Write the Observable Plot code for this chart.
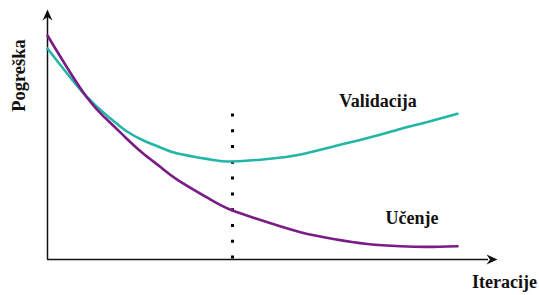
<!DOCTYPE html>
<html>
<head>
<meta charset="utf-8">
<script src="https://cdn.jsdelivr.net/npm/d3@7"></script>
<script src="https://cdn.jsdelivr.net/npm/@observablehq/plot@0.6"></script>
<style>
  html, body { margin: 0; padding: 0; background: #fff; }
  #chart svg { display: block; overflow: visible; }
</style>
</head>
<body>
<div id="chart"></div>
<script>
// Iterations (shared x values for both series)
const iterations = [0, 38, 63, 78, 96, 113, 130, 163, 185, 220, 253, 286, 320, 353, 380, 410];
// Training error (Učenje)
const trainingError = [224, 164, 136.5, 122, 105.7, 92.5, 79.7, 60, 49, 37.2, 27.3, 20.5, 15.5, 13.2, 12.6, 13.3];
// Validation error (Validacija)
const validationError = [211, 164, 141, 129, 119, 112, 106, 100, 98, 100.5, 105, 113, 121.5, 130.5, 137.5, 145.7];

// Early-stopping iteration (dotted line) and its top
const stopIteration = 185;
const stopLineTop = 145.5;

// Axis extents
const xMax = 450;
const yMax = 250;

// Labels
const seriesNames = ["Validacija", "Učenje"];
const labelX = [330.5, 364.5];
const labelY = [158, 41];
const xAxisLabel = "Iteracije";
const yAxisLabel = "Pogreška";

const colors = { "Učenje": "#7b1c86", "Validacija": "#22b6a6" };

const trainRows = iterations.map((x, i) => ({ x, y: trainingError[i], series: "Učenje" }));
const valRows = iterations.map((x, i) => ({ x, y: validationError[i], series: "Validacija" }));
const labelRows = seriesNames.map((name, i) => ({ name, x: labelX[i], y: labelY[i] }));

// Notched arrowhead symbol with the tip at the origin, pointing up
const arrowHead = {
  draw(context, size) {
    const r = Math.sqrt(size / Math.PI);
    context.moveTo(0, 0);
    context.lineTo(r * 0.95, r * 2.1);
    context.lineTo(0, r * 1.45);
    context.lineTo(-r * 0.95, r * 2.1);
    context.closePath();
  }
};

const chart = Plot.plot({
  width: 539,
  height: 295,
  marginLeft: 47,
  marginRight: 42,
  marginTop: 9,
  marginBottom: 36,
  x: { domain: [0, xMax], axis: null },
  y: { domain: [0, yMax], axis: null },
  style: { background: "#fff", fontFamily: "Liberation Serif", overflow: "visible" },
  marks: [
    // axes
    Plot.ruleX([0], { y1: 0, y2: yMax * 0.97, stroke: "#111", strokeWidth: 1.5 }),
    Plot.ruleY([0], { x1: 0, x2: xMax * 0.98, stroke: "#111", strokeWidth: 1.5 }),
    Plot.dot([{ x: 0, y: yMax }], { x: "x", y: "y", symbol: arrowHead, r: 5.2, fill: "#111", stroke: null }),
    Plot.dot([{ x: xMax, y: 0 }], { x: "x", y: "y", symbol: arrowHead, r: 5.2, fill: "#111", stroke: null, rotate: 90 }),
    // dotted early-stopping line
    Plot.ruleX([stopIteration], { y1: 0.5, y2: stopLineTop, stroke: "#000", strokeWidth: 3, strokeDasharray: "3,12.78", strokeLinecap: "butt" }),
    // curves
    Plot.line(valRows, { x: "x", y: "y", stroke: colors["Validacija"], strokeWidth: 2.6, curve: "natural" }),
    Plot.line(trainRows, { x: "x", y: "y", stroke: colors["Učenje"], strokeWidth: 2.6, curve: "natural" }),
    // labels
    Plot.text(labelRows, { x: "x", y: "y", text: "name", fontSize: 18, fontWeight: "bold", fill: "#111", fontFamily: "Liberation Serif" }),
    Plot.text([xAxisLabel], { x: 457, y: -23.2, text: d => d, fontSize: 18, fontWeight: "bold", fill: "#111", fontFamily: "Liberation Serif" }),
    Plot.text([yAxisLabel], { x: -28.9, y: 184, text: d => d, rotate: -90, fontSize: 18.5, fontWeight: "bold", fill: "#111", fontFamily: "Liberation Serif" })
  ]
});

document.getElementById("chart").appendChild(chart);
</script>
</body>
</html>
